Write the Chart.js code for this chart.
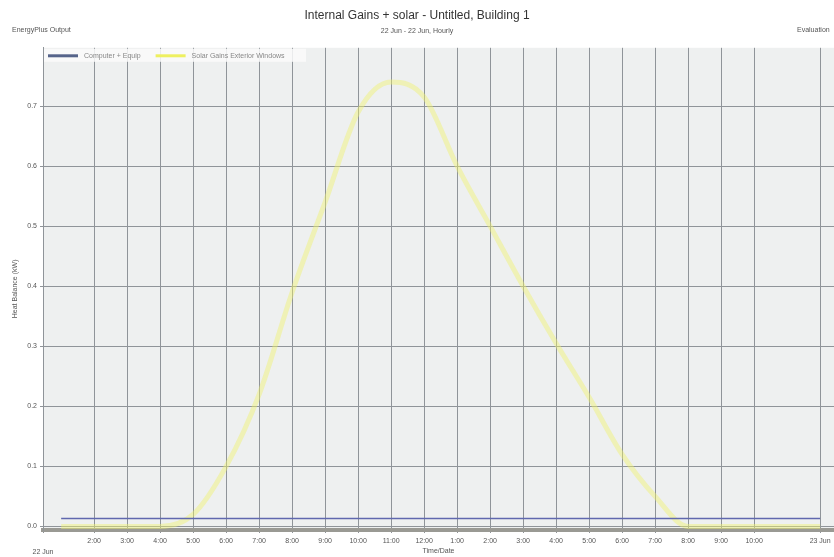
<!DOCTYPE html>
<html>
<head>
<meta charset="utf-8">
<script src="https://cdn.jsdelivr.net/npm/chart.js@4"></script>
<style>
  html, body { margin: 0; padding: 0; background: #fff; }
  #wrap { width: 834px; height: 557px; }
</style>
</head>
<body>
<div id="wrap"><canvas id="gainsChart" width="834" height="557"></canvas></div>
<script>
// hourly values, 22 Jun (hour 24 = midnight 23 Jun)
const hours = [1, 2, 3, 4, 5, 6, 7, 8, 9, 10, 11, 12, 13, 14, 15, 16, 17, 18, 19, 20, 21, 22, 23, 24];
const computerEquip = [0.013, 0.013, 0.013, 0.013, 0.013, 0.013, 0.013, 0.013, 0.013, 0.013, 0.013, 0.013,
                       0.013, 0.013, 0.013, 0.013, 0.013, 0.013, 0.013, 0.013, 0.013, 0.013, 0.013, 0.013];
const solarWindows = [0, 0, 0, 0, 0.02, 0.10, 0.22, 0.39, 0.54, 0.69, 0.74, 0.715,
                      0.60, 0.50, 0.40, 0.305, 0.215, 0.12, 0.05, 0.0, 0, 0, 0, 0];

const xTickHours = [0.45, 2, 3, 4, 5, 6, 7, 8, 9, 10, 11, 12, 13, 14, 15, 16, 17, 18, 19, 20, 21, 22, 24];
const xTickLabels = [["", "22 Jun"], "2:00", "3:00", "4:00", "5:00", "6:00", "7:00", "8:00", "9:00", "10:00", "11:00",
                     "12:00", "1:00", "2:00", "3:00", "4:00", "5:00", "6:00", "7:00", "8:00", "9:00", "10:00", "23 Jun"];
const yTicks = [0, 0.1, 0.2, 0.3, 0.4, 0.5, 0.6, 0.7];

const toPoints = vals => hours.map((h, i) => ({x: h, y: vals[i]}));

const plotBg = {
    id: "plotBg",
    beforeDraw(chart) {
        const a = chart.chartArea, c = chart.ctx;
        c.save();
        c.fillStyle = "#eef0f0";
        c.fillRect(a.left, a.top, a.right - a.left, a.bottom - a.top);
        c.restore();
    }
};

// side texts + legend drawn inside the plot, like the original
const extras = {
    id: "extras",
    afterDraw(chart) {
        const c = chart.ctx, a = chart.chartArea;
        c.save();
        c.font = "7px 'Liberation Sans', Arial, sans-serif";
        c.fillStyle = "#555";
        c.textBaseline = "middle";
        c.textAlign = "left";
        c.fillText("EnergyPlus Output", 12, 30);
        c.fillText("Evaluation", 797, 30);

        c.fillStyle = "rgba(250,250,250,0.85)";
        c.fillRect(a.left + 1, a.top + 1, 262, 13);
        let x = a.left + 5;
        const y = a.top + 8;
        chart.data.datasets.forEach(ds => {
            c.strokeStyle = ds.legendColor;
            c.lineWidth = 3;
            c.beginPath();
            c.moveTo(x, y);
            c.lineTo(x + 30, y);
            c.stroke();
            c.fillStyle = "#888";
            c.fillText(ds.label, x + 36, y);
            x += 36 + c.measureText(ds.label).width + 15;
        });
        c.restore();
    }
};

const ctx = document.getElementById("gainsChart").getContext("2d");

const gainsChart = new Chart(ctx, {
    type: "line",
    data: {
        datasets: [{
            label: "Computer + Equip",
            data: toPoints(computerEquip),
            borderColor: "#6068ae",
            legendColor: "#56648a",
            borderWidth: 1.5,
            pointRadius: 0
        }, {
            label: "Solar Gains Exterior Windows",
            data: toPoints(solarWindows),
            borderColor: "rgba(240,242,110,0.45)",
            legendColor: "#eef060",
            borderWidth: 5,
            pointRadius: 0,
            cubicInterpolationMode: "monotone"
        }]
    },
    options: {
        responsive: false,
        animation: false,
        layout: { padding: 0 },
        plugins: {
            legend: { display: false },
            tooltip: { enabled: false },
            title: {
                display: true,
                text: "Internal Gains + solar - Untitled, Building 1",
                color: "#333",
                font: { family: "'Liberation Sans', Arial, sans-serif", size: 12, weight: "normal" },
                padding: { top: 8, bottom: 2 }
            },
            subtitle: {
                display: true,
                text: "22 Jun - 22 Jun, Hourly",
                color: "#555",
                font: { family: "'Liberation Sans', Arial, sans-serif", size: 7 },
                padding: { top: 2, bottom: 13 }
            }
        },
        scales: {
            x: {
                type: "linear",
                min: 0.45,
                max: 24.42,
                afterBuildTicks: s => { s.ticks = xTickHours.map(v => ({value: v})); },
                afterFit: s => { s.height = 27; },
                ticks: {
                    autoSkip: false,
                    maxRotation: 0,
                    padding: 2,
                    color: "#555",
                    font: { family: "'Liberation Sans', Arial, sans-serif", size: 7, lineHeight: 1.6 },
                    callback: (v, i) => xTickLabels[i]
                },
                grid: { color: "#8f9499", lineWidth: 1, tickLength: 3 },
                border: { color: "#9a9a94", width: 4 },
                title: {
                    display: true,
                    text: "Time/Date",
                    color: "#555",
                    font: { family: "'Liberation Sans', Arial, sans-serif", size: 7 },
                    padding: { top: 0, bottom: 2 }
                }
            },
            y: {
                min: -0.006,
                max: 0.797,
                afterBuildTicks: s => { s.ticks = yTicks.map(v => ({value: v})); },
                afterFit: s => { s.width = 43; },
                ticks: {
                    padding: 3,
                    color: "#555",
                    font: { family: "'Liberation Sans', Arial, sans-serif", size: 7 },
                    callback: v => v.toFixed(1)
                },
                grid: { color: "#8f9499", lineWidth: 1, tickLength: 3 },
                border: { color: "#8f9499", width: 1 },
                title: {
                    display: true,
                    text: "Heat Balance (kW)",
                    color: "#555",
                    font: { family: "'Liberation Sans', Arial, sans-serif", size: 7 },
                    padding: { top: 11, bottom: 0 }
                }
            }
        }
    },
    plugins: [plotBg, extras]
});
</script>
</body>
</html>
